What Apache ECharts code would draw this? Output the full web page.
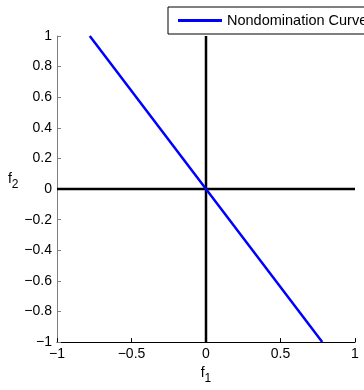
<!DOCTYPE html>
<html>
<head>
<meta charset="utf-8">
<script src="https://cdn.jsdelivr.net/npm/echarts@6/dist/echarts.min.js"></script>
<style>
  html, body { margin: 0; padding: 0; background: #fff; }
  #chart { width: 364px; height: 390px; }
</style>
</head>
<body>
<div id="chart"></div>
<script>
// nondomination curve f2 vs f1
const curveF1 = [-0.78, 0, 0.78];
const curveF2 = [1, 0, -1];
// the two black reference lines through the origin
const vLineF1 = [0, 0];
const vLineF2 = [-1, 1];
const hLineF1 = [-1, 1];
const hLineF2 = [0, 0];

const fontFamily = 'Arial, "Liberation Sans", Helvetica, sans-serif';
const zip = (xs, ys) => xs.map((x, i) => [x, ys[i]]);
const fmt = (v) => String(Math.round(v * 10) / 10).replace('-', '\u2212');

const chart = echarts.init(document.getElementById('chart'));
chart.setOption({
  backgroundColor: '#fff',
  animation: false,
  grid: { left: 57, right: 9, top: 36, bottom: 44 },
  legend: {
    data: ['Nondomination Curve'],
    left: 168,
    top: 7,
    padding: [6, 60, 6, 10],
    borderColor: '#000',
    borderWidth: 1,
    backgroundColor: '#fff',
    icon: 'rect',
    itemWidth: 44,
    itemHeight: 3,
    textStyle: { color: '#000', fontSize: 14.5, lineHeight: 14, fontFamily },
  },
  xAxis: {
    type: 'value',
    min: -1,
    max: 1,
    interval: 0.5,
    name: 'f{s|1}',
    nameLocation: 'middle',
    nameGap: 17,
    nameTextStyle: {
      color: '#000', fontSize: 14, fontFamily,
      rich: { s: { fontSize: 12, fontFamily, verticalAlign: 'bottom', padding: [12, 0, 0, 0] } },
    },
    axisLine: { onZero: false, lineStyle: { color: '#000', width: 1 } },
    axisTick: { inside: true, length: 4, lineStyle: { color: '#000' } },
    axisLabel: { color: '#000', fontSize: 14, fontFamily, margin: 5, formatter: fmt },
    splitLine: { show: false },
  },
  yAxis: {
    type: 'value',
    min: -1,
    max: 1,
    interval: 0.2,
    name: 'f{s|2}',
    nameLocation: 'middle',
    nameRotate: 0,
    nameGap: 36,
    nameTextStyle: {
      color: '#000', fontSize: 14, fontFamily,
      padding: [0, 0, 20, 0],
      rich: { s: { fontSize: 12, fontFamily, verticalAlign: 'bottom', padding: [12, 0, 0, 0] } },
    },
    axisLine: { onZero: false, lineStyle: { color: '#808080', width: 1 } },
    axisTick: { inside: true, length: 4, lineStyle: { color: '#808080' } },
    axisLabel: { color: '#000', fontSize: 14, fontFamily, margin: 5, formatter: fmt },
    splitLine: { show: false },
  },
  series: [
    {
      name: 'vertical',
      type: 'line',
      data: zip(vLineF1, vLineF2),
      symbol: 'none',
      lineStyle: { color: '#000', width: 2.5 },
      z: 2,
    },
    {
      name: 'horizontal',
      type: 'line',
      data: zip(hLineF1, hLineF2),
      symbol: 'none',
      lineStyle: { color: '#000', width: 2.5 },
      z: 2,
    },
    {
      name: 'Nondomination Curve',
      type: 'line',
      data: zip(curveF1, curveF2),
      symbol: 'none',
      itemStyle: { color: '#0000ff' },
      lineStyle: { color: '#0000ff', width: 2.5 },
      z: 3,
    },
  ],
});
</script>
</body>
</html>
